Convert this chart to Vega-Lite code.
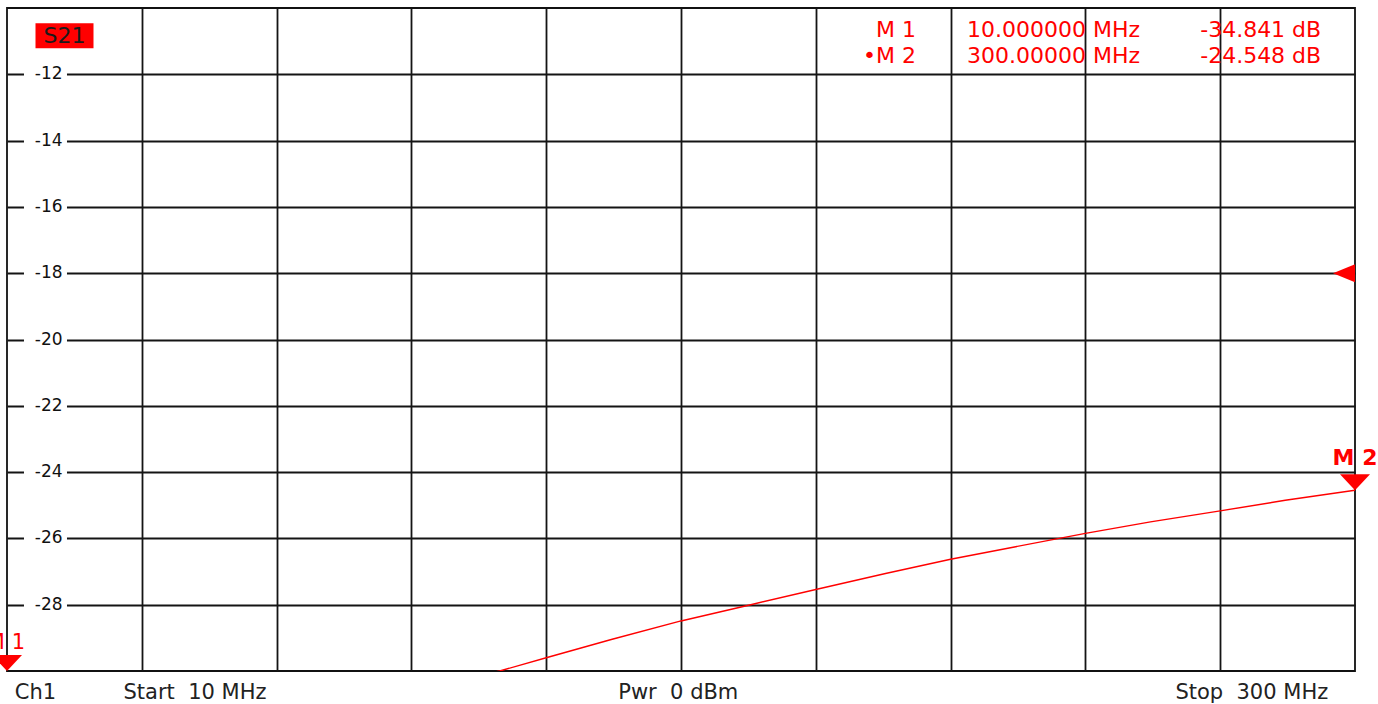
{
  "$schema": "https://vega.github.io/schema/vega-lite/v6.json",
  "width": 1348,
  "height": 663,
  "autosize": {"type": "none"},
  "padding": {"left": 7, "top": 8, "right": 23, "bottom": 33},
  "background": "#ffffff",
  "config": {
    "view": {"stroke": "#111111", "strokeWidth": 1.8},
    "axis": {"grid": true, "gridColor": "#141414", "gridWidth": 1.8, "gridOpacity": 1, "labels": false, "ticks": false, "domain": false, "title": null}
  },
  "datasets": {
    "trace": [
      {"freq_mhz": 10, "s21_db": -34.841},
      {"freq_mhz": 25, "s21_db": -34.1},
      {"freq_mhz": 40, "s21_db": -33.3},
      {"freq_mhz": 55, "s21_db": -32.5},
      {"freq_mhz": 70, "s21_db": -31.75},
      {"freq_mhz": 85, "s21_db": -31.0},
      {"freq_mhz": 100, "s21_db": -30.45},
      {"freq_mhz": 116, "s21_db": -30.0},
      {"freq_mhz": 126, "s21_db": -29.6},
      {"freq_mhz": 140, "s21_db": -29.05},
      {"freq_mhz": 155, "s21_db": -28.49},
      {"freq_mhz": 170, "s21_db": -28.0},
      {"freq_mhz": 184, "s21_db": -27.54},
      {"freq_mhz": 199, "s21_db": -27.06},
      {"freq_mhz": 213, "s21_db": -26.63},
      {"freq_mhz": 227, "s21_db": -26.25},
      {"freq_mhz": 242, "s21_db": -25.85},
      {"freq_mhz": 256, "s21_db": -25.5},
      {"freq_mhz": 271, "s21_db": -25.17},
      {"freq_mhz": 285, "s21_db": -24.85},
      {"freq_mhz": 300, "s21_db": -24.548}
    ],
    "markers": [
      {"marker": "M 1", "label": "M 1", "freq_mhz": 10, "level_db": -34.841, "freq_text": "10.000000 MHz", "level_text": "-34.841 dB"},
      {"marker": "M 2", "label": "•M 2", "freq_mhz": 300, "level_db": -24.548, "freq_text": "300.00000 MHz", "level_text": "-24.548 dB"}
    ],
    "ylabels": [
      {"v": -12, "t": "-12"},
      {"v": -14, "t": "-14"},
      {"v": -16, "t": "-16"},
      {"v": -18, "t": "-18"},
      {"v": -20, "t": "-20"},
      {"v": -22, "t": "-22"},
      {"v": -24, "t": "-24"},
      {"v": -26, "t": "-26"},
      {"v": -28, "t": "-28"}
    ]
  },
  "layer": [
    {
      "data": {"name": "trace"},
      "mark": {"type": "line", "color": "#ff0000", "strokeWidth": 1.4, "clip": true},
      "encoding": {
        "x": {"field": "freq_mhz", "type": "quantitative", "scale": {"domain": [10, 300], "nice": false, "zero": false}, "axis": {"values": [39, 68, 97, 126, 155, 184, 213, 242, 271]}},
        "y": {"field": "s21_db", "type": "quantitative", "scale": {"domain": [-30, -10], "nice": false, "zero": false}, "axis": {"values": [-28, -26, -24, -22, -20, -18, -16, -14, -12]}}
      }
    },
    {
      "data": {"name": "ylabels"},
      "mark": {"type": "point", "shape": "M -2.15 -0.8 L 2.15 -0.8 L 2.15 0.8 L -2.15 0.8 Z", "size": 400, "filled": true, "color": "#ffffff", "opacity": 1, "strokeWidth": 0},
      "encoding": {"x": {"datum": 18.28}, "y": {"field": "v", "type": "quantitative"}}
    },
    {
      "data": {"name": "ylabels"},
      "mark": {"type": "text", "font": "DejaVu Sans", "fontSize": 17, "color": "#111111", "align": "center", "baseline": "middle"},
      "encoding": {"x": {"datum": 18.97}, "y": {"field": "v", "type": "quantitative"}, "text": {"field": "t"}}
    },
    {
      "data": {"values": [{"trace": "S21"}]},
      "encoding": {"x": {"datum": 22.37}, "y": {"datum": -10.839}},
      "layer": [
        {"mark": {"type": "point", "shape": "M -2.32 -1 L 2.32 -1 L 2.32 1 L -2.32 1 Z", "size": 625, "filled": true, "color": "#ff0000", "opacity": 1, "strokeWidth": 0}},
        {"mark": {"type": "text", "font": "DejaVu Sans", "fontSize": 22, "color": "#1a1a1a", "align": "center", "baseline": "middle"}, "encoding": {"text": {"field": "trace"}}}
      ]
    },
    {
      "data": {"name": "markers"},
      "transform": [{"filter": "datum.marker === 'M 1'"}],
      "encoding": {"y": {"datum": -10.664}},
      "layer": [
        {"mark": {"type": "text", "font": "DejaVu Sans", "fontSize": 22, "color": "#ff0000", "align": "right", "baseline": "middle"}, "encoding": {"x": {"datum": 205.56}, "text": {"field": "label"}}},
        {"mark": {"type": "text", "font": "DejaVu Sans", "fontSize": 22, "color": "#ff0000", "align": "center", "baseline": "middle"}, "encoding": {"x": {"datum": 235.14}, "text": {"field": "freq_text"}}},
        {"mark": {"type": "text", "font": "DejaVu Sans", "fontSize": 22, "color": "#ff0000", "align": "center", "baseline": "middle"}, "encoding": {"x": {"datum": 279.71}, "text": {"field": "level_text"}}}
      ]
    },
    {
      "data": {"name": "markers"},
      "transform": [{"filter": "datum.marker === 'M 2'"}],
      "encoding": {"y": {"datum": -11.463}},
      "layer": [
        {"mark": {"type": "text", "font": "DejaVu Sans", "fontSize": 22, "color": "#ff0000", "align": "right", "baseline": "middle"}, "encoding": {"x": {"datum": 205.56}, "text": {"field": "label"}}},
        {"mark": {"type": "text", "font": "DejaVu Sans", "fontSize": 22, "color": "#ff0000", "align": "center", "baseline": "middle"}, "encoding": {"x": {"datum": 235.14}, "text": {"field": "freq_text"}}},
        {"mark": {"type": "text", "font": "DejaVu Sans", "fontSize": 22, "color": "#ff0000", "align": "center", "baseline": "middle"}, "encoding": {"x": {"datum": 279.71}, "text": {"field": "level_text"}}}
      ]
    },
    {
      "data": {"name": "markers"},
      "transform": [{"filter": "datum.marker === 'M 1'"}],
      "encoding": {"x": {"field": "freq_mhz", "type": "quantitative"}, "y": {"datum": -30}},
      "layer": [
        {"mark": {"type": "point", "shape": "M -1 -1.07 L 1 -1.07 L 0 0 Z", "size": 900, "filled": true, "color": "#ff0000", "opacity": 1, "strokeWidth": 0}},
        {"mark": {"type": "text", "font": "DejaVu Sans", "fontSize": 21, "color": "#ff0000", "align": "right", "baseline": "middle", "dx": 18, "dy": -28.5}, "encoding": {"text": {"field": "marker"}}}
      ]
    },
    {
      "data": {"name": "markers"},
      "transform": [{"filter": "datum.marker === 'M 2'"}],
      "encoding": {"x": {"field": "freq_mhz", "type": "quantitative"}, "y": {"field": "level_db", "type": "quantitative"}},
      "layer": [
        {"mark": {"type": "point", "shape": "M -1 -1.07 L 1 -1.07 L 0 0 Z", "size": 900, "filled": true, "color": "#ff0000", "opacity": 1, "strokeWidth": 0}},
        {"mark": {"type": "text", "font": "DejaVu Sans", "fontSize": 22, "fontWeight": "bold", "color": "#ff0000", "align": "center", "baseline": "middle", "dy": -32.7}, "encoding": {"text": {"field": "marker"}}}
      ]
    },
    {
      "data": {"values": [{"ref_db": -18, "freq_mhz": 300}]},
      "mark": {"type": "point", "shape": "M -2 0 L 0 -0.82 L 0 0.82 Z", "size": 484, "filled": true, "color": "#ff0000", "opacity": 1, "strokeWidth": 0},
      "encoding": {"x": {"field": "freq_mhz", "type": "quantitative"}, "y": {"field": "ref_db", "type": "quantitative"}}
    },
    {
      "data": {"values": [{"t": "Ch1"}]},
      "mark": {"type": "text", "font": "DejaVu Sans", "fontSize": 21, "color": "#222222", "align": "center", "baseline": "middle", "dy": 22.3},
      "encoding": {"x": {"datum": 16.13}, "y": {"datum": -30}, "text": {"field": "t"}}
    },
    {
      "data": {"values": [{"t": "Start\u00a0\u00a010 MHz"}]},
      "mark": {"type": "text", "font": "DejaVu Sans", "fontSize": 21, "color": "#222222", "align": "center", "baseline": "middle", "dy": 22.3},
      "encoding": {"x": {"datum": 50.45}, "y": {"datum": -30}, "text": {"field": "t"}}
    },
    {
      "data": {"values": [{"t": "Pwr\u00a0\u00a00 dBm"}]},
      "mark": {"type": "text", "font": "DejaVu Sans", "fontSize": 21, "color": "#222222", "align": "center", "baseline": "middle", "dy": 22.3},
      "encoding": {"x": {"datum": 154.42}, "y": {"datum": -30}, "text": {"field": "t"}}
    },
    {
      "data": {"values": [{"t": "Stop\u00a0\u00a0300 MHz"}]},
      "mark": {"type": "text", "font": "DejaVu Sans", "fontSize": 21, "color": "#222222", "align": "center", "baseline": "middle", "dy": 22.3},
      "encoding": {"x": {"datum": 277.8}, "y": {"datum": -30}, "text": {"field": "t"}}
    }
  ]
}
